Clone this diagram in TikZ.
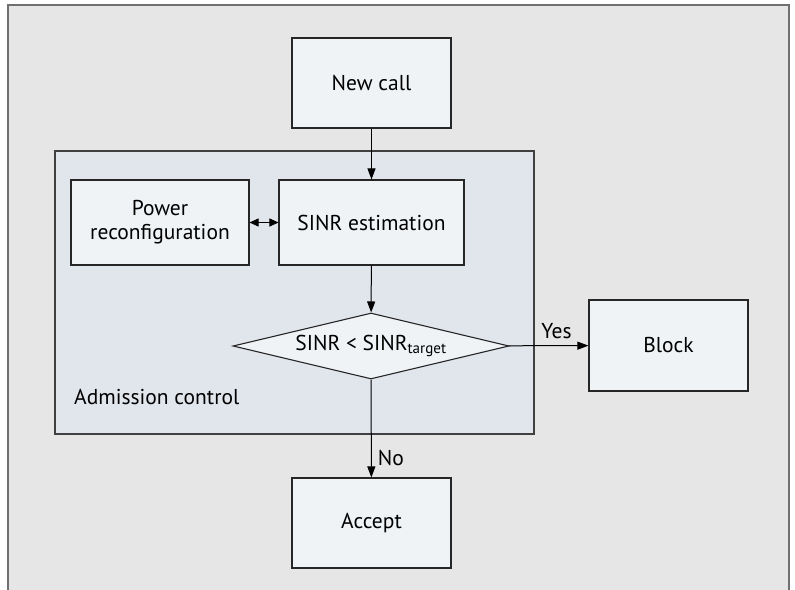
\documentclass[tikz,border=0pt]{standalone}
\usepackage{fontspec}
\setmainfont{PT Sans}
\usetikzlibrary{shapes.geometric,arrows.meta}
\definecolor{framefill}{HTML}{E6E6E6}
\definecolor{frameline}{HTML}{707070}
\definecolor{admfill}{HTML}{E1E5EC}
\definecolor{boxfill}{HTML}{EFF3F6}
\tikzset{
  x=1pt,y=-1pt,
  boxnode/.style={draw=black!85,fill=boxfill,line width=1.1pt,inner sep=0pt,align=center,font=\fontsize{21.5}{24}\selectfont},
  flowarrow/.style={-{Triangle[length=11pt,width=8pt]},line width=1pt},
  lbl/.style={font=\fontsize{21.5}{24}\selectfont,inner sep=0pt}
}
\begin{document}
\begin{tikzpicture}
\useasboundingbox (0,0) rectangle (795,589);
\draw[fill=framefill,draw=frameline,line width=1.5pt] (8,5) rectangle (789,620);
\draw[fill=admfill,draw=black!75,line width=1.1pt] (55,151) rectangle (534,434);
\node[lbl,anchor=west] (admlbl) at (74,397) {Admission control};
\node[boxnode,minimum width=159pt,minimum height=90pt] (newcall) at (371.5,83) {New call};
\node[boxnode,minimum width=178pt,minimum height=85pt] (power) at (160,222.5) {Power\\reconfiguration};
\node[boxnode,minimum width=185pt,minimum height=85pt] (sinr) at (371.5,222.5) {SINR estimation};
\node[boxnode,shape=diamond,aspect=4.2,minimum width=276pt,minimum height=66pt] (dec) at (371,346) {SINR {<} SINR\textsubscript{target}};
\node[boxnode,minimum width=159pt,minimum height=91pt] (block) at (668.5,345.5) {Block};
\node[boxnode,minimum width=159pt,minimum height=90pt] (accept) at (371.5,523) {Accept};
\draw[flowarrow] (newcall) -- (sinr);
\draw[{Triangle[length=9pt,width=8pt]}-{Triangle[length=9pt,width=8pt]},line width=1pt] (power) -- (sinr);
\draw[flowarrow] (sinr) -- (dec);
\draw[flowarrow] (dec) -- node[lbl,above,pos=0.6,yshift=6pt] (yes) {Yes} (block);
\draw[flowarrow] (dec) -- node[lbl,right,pos=0.8,xshift=6pt] (no) {No} (accept);
\end{tikzpicture}
\end{document}
